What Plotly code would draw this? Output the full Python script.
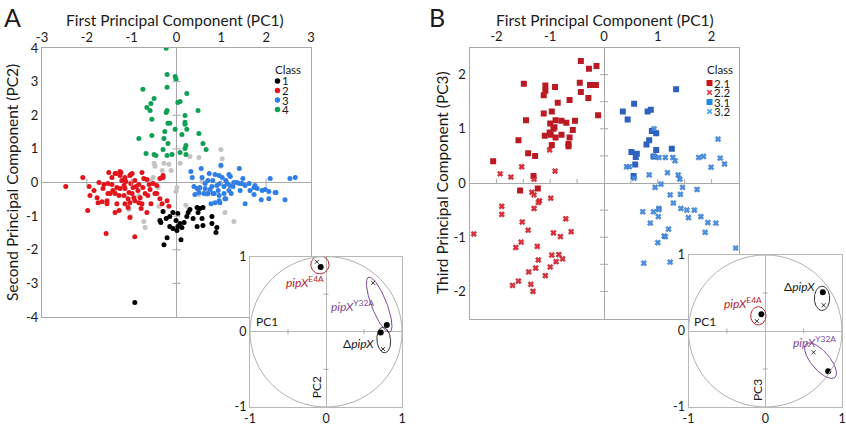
import numpy as np
import plotly.graph_objects as go

W, H = 846, 425
FONT = "Lato"

# ---------------- Panel A data: (PC1, PC2) ----------------
A_class1 = [(-0.30,-0.86),(-0.35,-1.19),(-0.37,-1.13),(-0.23,-1.07),(-0.15,-1.01),(-0.08,-0.89),
            (0.03,-0.92),(0.08,-1.22),(-0.08,-1.37),(0.01,-1.43),(0.10,-1.70),(-0.21,-1.64),
            (-0.28,-1.85),(0.23,-1.01),(0.26,-0.89),(0.30,-0.80),(0.46,-0.74),(0.52,-0.77),
            (0.59,-0.74),(0.48,-0.89),(0.57,-1.07),(0.46,-1.31),(0.59,-1.28),(0.79,-1.01),
            (0.90,-1.34),(0.88,-1.49),(0.79,-1.22),(0.17,-1.19),(0.12,-1.34),(-0.93,-3.57),
            (-0.01,-1.13),(0.03,-1.31),(0.37,-1.07),(-0.15,-1.31)]
A_class2 = [(-2.09,0.15),(-2.47,-0.12),(-1.95,-0.12),(-1.73,0.00),(-1.62,-0.06),(-1.64,-0.18),
            (-1.53,-0.03),(-1.51,0.30),(-1.44,0.15),(-1.35,0.27),(-1.26,0.33),(-1.26,0.21),
            (-1.22,0.06),(-1.15,0.15),(-1.04,0.21),(-0.99,0.27),(-0.93,0.06),(-1.02,-0.03),
            (-0.84,-0.06),(-0.77,0.30),(-0.73,0.12),(-0.66,0.09),(-0.61,-0.06),(-1.44,-0.06),
            (-1.33,-0.15),(-1.17,-0.09),(-0.97,-0.15),(-1.15,-0.18),(-1.93,-0.39),(-1.77,-0.45),
            (-1.66,-0.57),(-1.55,-0.54),(-1.48,-0.33),(-1.37,-0.33),(-1.28,-0.39),(-1.17,-0.39),
            (-1.06,-0.30),(-0.99,-0.33),(-0.95,-0.45),(-0.93,-0.54),(-0.84,-0.60),(-1.04,-0.60),
            (-1.15,-0.63),(-1.33,-0.63),(-0.77,-0.63),(-0.57,-0.63),(-0.48,-0.33),(-0.37,-0.48),
            (-0.17,-0.71),(-0.21,-0.54),(-0.66,-0.89),(-1.04,-1.04),(-1.28,-0.83),(-1.37,-0.89),
            (-1.98,-0.83),(-1.57,-1.52),(-0.93,-1.61),(-0.30,0.21),(-0.30,0.15),(-0.44,-0.09),
            (-0.52,-0.03),(-0.75,-0.15),(-0.44,-0.33),(-0.32,-0.63),(-1.55,-0.63),(-1.75,-0.60),
            (-1.24,0.30),(-1.02,0.24),(-1.37,0.27),(-1.13,0.03),(-1.42,-0.24),(-0.86,-0.24),
            (-0.70,-0.33),(-0.81,-0.45),(-1.08,-0.48),(-1.26,-0.18),(-0.90,-0.12),(-1.53,-0.33),
            (-1.84,-0.24),(-0.64,-0.39),(-1.08,-0.74),(-0.79,-0.77),(-0.59,-0.21),(-0.37,0.12)]
A_class3 = [(0.32,0.33),(0.55,0.42),(0.73,0.27),(0.86,0.24),(0.99,0.51),(1.17,0.24),(1.40,0.42),
            (0.35,0.15),(0.57,0.15),(0.81,0.06),(0.95,0.21),(1.02,0.15),(1.20,0.18),(0.39,-0.12),
            (0.41,-0.36),(0.50,-0.30),(0.90,-0.09),(0.97,-0.03),(1.06,-0.12),(1.13,-0.03),
            (1.19,-0.09),(1.28,0.00),(1.40,-0.03),(1.46,-0.03),(1.53,-0.09),(0.75,-0.21),
            (0.84,-0.33),(0.95,-0.39),(1.06,-0.33),(1.17,-0.24),(0.86,-0.60),(0.77,-0.63),
            (0.95,-0.54),(1.08,-0.48),(1.53,-0.63),(1.64,-0.24),(1.73,-0.36),(1.80,-0.18),
            (1.91,-0.24),(2.06,-0.27),(2.20,-0.30),(1.89,-0.51),(2.06,-0.48),(2.42,-0.51),
            (2.09,0.12),(2.53,0.12),(2.65,0.15),(0.64,-0.03),(0.52,-0.15),(0.46,-0.18),
            (1.75,-0.09),(1.62,-0.03),(0.64,-0.18),(0.61,-0.33),(0.70,-0.33),(0.81,-0.33),
            (0.97,-0.60),(1.10,-0.48),(1.73,-0.15),(1.98,-0.21),(2.22,-0.30),(1.35,0.00),
            (1.26,-0.12),(1.10,0.06),(0.79,-0.12),(0.70,0.06),(1.42,-0.24),(1.48,0.12),
            (0.93,-0.24),(1.22,-0.33)]
A_class4 = [(-0.23,3.99),(-0.21,3.21),(-0.03,3.15),(-0.01,3.07),(-0.75,2.77),(-0.21,2.83),
            (0.23,2.65),(-0.50,2.50),(0.08,2.41),(0.03,2.38),(-0.57,2.35),(-0.66,2.23),
            (-0.59,2.14),(-0.21,2.14),(-0.23,2.08),(0.48,2.14),(0.19,1.99),(-0.55,1.88),
            (-0.19,1.76),(-0.15,1.76),(0.19,1.79),(0.19,1.73),(-0.03,1.58),(-0.26,1.52),
            (0.23,1.58),(0.50,1.46),(-0.55,1.40),(0.12,1.43),(-0.84,1.31),(-0.28,1.31),
            (-0.19,1.16),(0.59,1.16),(0.21,1.10),(0.19,1.01),(-0.30,0.98),(0.66,0.98),
            (-0.68,0.86),(-0.50,0.83),(-0.46,0.80),(-0.21,0.80),(-0.10,0.83),(0.08,0.89),
            (0.21,0.83)]
A_unclassified = [(0.30,0.77),(0.50,0.74),(0.99,0.98),(1.02,0.71),(-0.50,0.57),(-0.48,0.48),
                  (-0.28,0.57),(-0.17,0.54),(-0.32,0.36),(-0.12,0.36),(0.08,0.57),(0.99,0.48),
                  (-0.52,0.15),(-0.57,0.06),(-0.41,-0.15),(0.01,-0.15),(-0.01,-0.27),(-0.84,-0.39),
                  (-1.06,-0.80),(-1.02,-1.01),(-0.73,-1.16),(-0.70,-1.34),(-0.39,-0.71),(0.21,-0.68),
                  (0.28,-0.80),(0.52,-0.18),(0.64,-0.24),(0.68,-0.36),(1.08,-0.89),(1.28,-1.16),
                  (-1.37,-0.24),(0.57,0.03),(0.50,-0.36)]

# ---------------- Panel B data: (PC1, PC3) ----------------
B_class21 = [(-0.43,2.25),(-0.14,2.16),(-0.28,2.11),(-1.49,1.83),(-1.09,1.80),(-0.91,1.77),
             (-0.45,1.85),(-0.26,1.81),(-0.15,1.81),(-1.09,1.70),(-0.43,1.68),(-1.12,1.62),
             (-0.29,1.57),(-0.64,1.53),(-0.86,1.48),(-0.97,1.32),(-1.12,1.28),(-0.11,1.25),
             (-1.45,1.16),(-0.90,1.16),(-0.79,1.15),(-0.70,1.11),(-0.54,1.15),(-1.00,1.10),
             (-0.92,1.03),(-0.94,1.00),(-0.58,0.98),(-1.01,0.93),(-0.99,0.89),(-1.10,0.87),
             (-0.90,0.84),(-0.79,0.89),(-0.64,0.84),(-1.59,0.79),(-0.66,0.72),(-0.66,0.68),
             (-0.97,0.70),(-1.41,0.55),(-1.28,0.50),(-2.06,0.40),(-1.31,0.13),(-1.56,-0.14),
             (-1.23,-0.10)]
B_class22 = [(-1.01,0.61),(-1.53,0.30),(-1.93,0.17),(-1.73,0.11),(-0.91,0.22),(-1.30,0.07),
             (-1.34,-0.17),(-1.30,-0.22),(-1.20,-0.33),(-1.22,-0.36),(-0.99,-0.28),(-1.90,-0.43),
             (-1.90,-0.58),(-1.30,-0.47),(-1.52,-0.72),(-0.71,-0.66),(-2.42,-0.94),(-1.41,-0.87),
             (-0.94,-0.92),(-0.81,-0.99),(-0.61,-0.90),(-1.54,-1.09),(-1.64,-1.19),(-1.24,-1.17),
             (-1.22,-1.42),(-0.97,-1.33),(-0.84,-1.32),(-0.77,-1.40),(-0.89,-1.45),(-1.27,-1.57),
             (-1.00,-1.55),(-1.40,-1.64),(-1.09,-1.71),(-1.59,-1.81),(-1.70,-1.89),(-1.36,-1.87),
             (-1.32,-2.00)]
B_class31 = [(1.34,1.73),(0.56,1.46),(0.35,1.32),(0.81,1.32),(0.87,1.35),(0.44,1.17),(0.89,0.96),
             (0.97,0.92),(0.84,0.79),(0.79,0.71),(0.97,0.61),(1.26,0.63),(0.51,0.57),(0.61,0.54),
             (0.59,0.48),(0.92,0.49),(0.58,0.34),(0.55,0.13)]
B_class32 = [(0.93,1.00),(0.93,0.49),(1.02,0.47),(1.14,0.47),(1.28,0.47),(1.32,0.41),(1.76,0.47),
             (1.85,0.49),(2.16,0.46),(2.24,0.35),(1.99,0.29),(2.12,0.81),(0.42,0.30),(0.47,0.30),
             (0.84,0.15),(1.18,0.19),(1.38,0.15),(1.41,0.07),(0.56,0.09),(1.06,-0.02),(0.95,-0.08),
             (1.23,-0.22),(1.42,-0.21),(1.73,-0.12),(1.46,-0.08),(0.72,-0.53),(0.92,-0.53),
             (1.02,-0.47),(1.02,-0.49),(1.01,-0.62),(1.29,-0.37),(1.43,-0.47),(1.54,-0.50),
             (1.68,-0.50),(1.57,-0.64),(1.80,-0.62),(1.93,-0.73),(2.08,-0.74),(0.86,-0.74),
             (1.20,-0.85),(1.88,-0.91),(1.12,-0.98),(1.14,-0.99),(1.00,-1.10),(2.45,-1.20),
             (0.74,-1.48),(1.23,-1.46)]

# ---------------- Loading-plot insets ----------------
strains = ["pipX E4A", "pipX Y32A", "delta pipX"]
insetA_dot = [(-0.07, 0.86), (0.80, 0.09), (0.72, -0.01)]
insetA_cross = [(-0.12, 0.93), (0.62, 0.65), (0.75, -0.23)]
insetB_dot = [(-0.05, 0.22), (0.82, -0.53), (0.75, 0.51)]
insetB_cross = [(-0.11, 0.13), (0.63, -0.28), (0.76, 0.34)]
# ellipse: centre x, centre y, semi-axis a, semi-axis b, angle (deg)
insetA_ell = [(-0.08, 0.89, 0.12, 0.12, 0), (0.70, 0.36, 0.39, 0.10, -69), (0.76, -0.11, 0.17, 0.09, 95)]
insetB_ell = [(-0.09, 0.20, 0.12, 0.10, 90), (0.72, -0.39, 0.29, 0.12, -50), (0.74, 0.43, 0.16, 0.10, 90)]
strain_colors = ["#b5242b", "#7d4a9c", "#333333"]

tickA_x = [-3, -2, -1, 0, 1, 2, 3]
tickA_y = [-4, -3, -2, -1, 0, 1, 2, 3, 4]
tickB_x = [-2, -1, 0, 1, 2]
tickB_y = [-2, -1, 0, 1, 2]
tick_inset = [-1, 0, 1]

GRID = "#a8a8a8"
TXT = "#1a1a1a"

fig = go.Figure()


def xs(p):
    return [q[0] for q in p]


def ys(p):
    return [q[1] for q in p]


def add_pts(pts, xa, ya, color, symbol, size, name, lw=0, lc=None):
    fig.add_trace(go.Scatter(
        x=xs(pts), y=ys(pts), xaxis=xa, yaxis=ya, mode="markers", name=name,
        marker=dict(color=color, symbol=symbol, size=size,
                    line=dict(width=lw, color=lc or color)),
        showlegend=False, hoverinfo="skip"))


# Panel A points
add_pts(A_unclassified, "x", "y", "#c3c3c3", "circle", 5, "unclassified")
add_pts(A_class2, "x", "y", "#e3141c", "circle", 5, "2")
add_pts(A_class3, "x", "y", "#2f7fe6", "circle", 5, "3")
add_pts(A_class4, "x", "y", "#0f9f55", "circle", 5, "4")
add_pts(A_class1, "x", "y", "#000000", "circle", 5, "1")

# Panel B points
add_pts(B_class21, "x2", "y2", "#bb1a22", "square", 6, "2.1")
add_pts(B_class22, "x2", "y2", "#e2303a", "x", 5, "2.2", 0.5, "#a01018")
add_pts(B_class31, "x2", "y2", "#2c62bd", "square", 6, "3.1")
add_pts(B_class32, "x2", "y2", "#4a92e6", "x", 5, "3.2", 0.5, "#2a62b0")


def ellipse(cx, cy, a, b, ang):
    t = np.linspace(0, 2 * np.pi, 120)
    th = np.radians(ang)
    ex = cx + a * np.cos(t) * np.cos(th) - b * np.sin(t) * np.sin(th)
    ey = cy + a * np.cos(t) * np.sin(th) + b * np.sin(t) * np.cos(th)
    return ex, ey


for ells, dots, crosses, xa, ya in [(insetA_ell, insetA_dot, insetA_cross, "x3", "y3"),
                                     (insetB_ell, insetB_dot, insetB_cross, "x4", "y4")]:
    for e, col in zip(ells, strain_colors):
        ex, ey = ellipse(*e)
        fig.add_trace(go.Scatter(x=ex, y=ey, xaxis=xa, yaxis=ya, mode="lines",
                                 line=dict(color=col, width=1), showlegend=False, hoverinfo="skip"))
    add_pts(dots, xa, ya, "#000000", "circle", 6, "dot")
    add_pts(crosses, xa, ya, "#333333", "x-thin", 4, "cross", 1, "#333333")


def ax(domain, rng, tv, side=None, anchor=None, fs=13):
    d = dict(domain=domain, range=rng, tickvals=tv, ticktext=[str(v) for v in tv],
             ticks="", showline=True, mirror=True, linecolor=GRID, linewidth=1,
             zeroline=True, zerolinecolor=GRID, zerolinewidth=1, showgrid=False,
             tickfont=dict(family=FONT, size=fs, color=TXT), anchor=anchor, fixedrange=True,
             automargin=False)
    if side:
        d["side"] = side
    return d


def dx(p):
    return p / W


def dy(p):
    return 1 - p / H


fig.update_layout(
    width=W, height=H, margin=dict(l=0, r=0, t=0, b=0, autoexpand=False),
    paper_bgcolor="white", plot_bgcolor="white", showlegend=False,
    xaxis=ax([dx(42), dx(311)], [-3, 3], tickA_x, "top", "y"),
    yaxis=ax([dy(317), dy(48)], [-4, 4], tickA_y, None, "x"),
    xaxis2=ax([dx(469.5), dx(738.5)], [-2.5, 2.5], tickB_x, "top", "y2"),
    yaxis2=ax([dy(318.5), dy(47.5)], [-2.5, 2.5], tickB_y, None, "x2"),
    xaxis3=ax([dx(250), dx(402)], [-1, 1], tick_inset, "bottom", "y3", 12.5),
    yaxis3=ax([dy(407), dy(256.5)], [-1, 1], tick_inset, None, "x3", 12.5),
    xaxis4=ax([dx(688.5), dx(842)], [-1, 1], tick_inset, "bottom", "y4", 12.5),
    yaxis4=ax([dy(407), dy(255)], [-1, 1], tick_inset, None, "x4", 12.5),
)
for k in ["xaxis3", "yaxis3", "xaxis4", "yaxis4"]:
    fig.layout[k].linecolor = "#b8b8b8"
    fig.layout[k].zerolinecolor = "#b8b8b8"
    fig.layout[k].ticklabelstandoff = 0

shapes = []


def tick_shapes(xa, ya, vals_v, vals_h, half, up_only=False):
    # ticks on the vertical zero line (at y values)
    for v in vals_v:
        shapes.append(dict(type="line", xref=xa, yref=ya, xsizemode="pixel", xanchor=0,
                           x0=-half, x1=half, y0=v, y1=v, line=dict(color=GRID, width=1), layer="above"))
    # ticks on the horizontal zero line (at x values)
    for v in vals_h:
        shapes.append(dict(type="line", xref=xa, yref=ya, ysizemode="pixel", yanchor=0,
                           y0=(0 if up_only else -half), y1=half, x0=v, x1=v,
                           line=dict(color=GRID, width=1), layer="above"))


tick_shapes("x", "y", [-3, -2, -1, 1, 2, 3], [-2, -1, 1, 2], 4)
tick_shapes("x2", "y2", [-2, -1.5, -1, -0.5, 0.5, 1, 1.5, 2], [-2, -1.5, -1, -0.5, 0.5, 1, 1.5, 2], 4, True)
tick_shapes("x3", "y3", [-0.5, 0.5], [-0.5, 0.5], 2.5)
tick_shapes("x4", "y4", [-0.5, 0.5], [-0.5, 0.5], 2.5)

for xa, ya in [("x3", "y3"), ("x4", "y4")]:
    shapes.append(dict(type="circle", xref=xa, yref=ya, x0=-1, x1=1, y0=-1, y1=1,
                       line=dict(color="#b0b0b0", width=1), layer="above"))


# legends (drawn as decoration in paper space)
def leg_marker(kind, px, py, color, s):
    base = dict(xref="paper", yref="paper", xsizemode="pixel", ysizemode="pixel",
                xanchor=dx(px), yanchor=dy(py), layer="above")
    if kind in ("circle", "rect"):
        shapes.append(dict(base, type=kind, x0=-s / 2, x1=s / 2, y0=-s / 2, y1=s / 2,
                           fillcolor=color, line=dict(width=0)))
    else:
        h = s / 2
        shapes.append(dict(base, type="line", x0=-h, x1=h, y0=-h, y1=h, line=dict(color=color, width=1.6)))
        shapes.append(dict(base, type="line", x0=-h, x1=h, y0=h, y1=-h, line=dict(color=color, width=1.6)))


annotations = []


def ann(text, x, y, size=12, color=TXT, xref="paper", yref="paper", xanchor="center",
        yanchor="middle", angle=0):
    if xref == "paper":
        x, y = dx(x), dy(y)
    annotations.append(dict(text=text, x=x, y=y, xref=xref, yref=yref, showarrow=False,
                            xanchor=xanchor, yanchor=yanchor, textangle=angle,
                            borderpad=0, font=dict(family=FONT, size=size, color=color)))


legA_labels = ["1", "2", "3", "4"]
legA_colors = ["#000000", "#e3141c", "#2f7fe6", "#0f9f55"]
legA_rows = [81, 90.5, 100, 109.5]
ann("Class", 288, 70, 11.5)
for lab, col, ry in zip(legA_labels, legA_colors, legA_rows):
    leg_marker("circle", 277.5, ry, col, 5.5)
    ann(lab, 281, ry, 11.5, xanchor="left")

legB_labels = ["2.1", "2.2", "3.1", "3.2"]
legB_kinds = ["rect", "x", "rect", "x"]
legB_colors = ["#c8141c", "#e2303a", "#1e8ae6", "#3f9ef0"]
legB_rows = [83, 92.5, 102, 111.5]
ann("Class", 720, 70, 11.5)
for lab, kind, col, ry in zip(legB_labels, legB_kinds, legB_colors, legB_rows):
    leg_marker(kind, 709.5, ry, col, 6 if kind == "rect" else 4.5)
    ann(lab, 713, ry, 11.5, xanchor="left")

# titles and panel letters
ann("A", 12, 17, 25)
ann("B", 437, 17, 25)
ann("First Principal Component (PC1)", 175, 20, 15.5)
ann("First Principal Component (PC1)", 605, 20, 15.5)
ann("Second Principal Component (PC2)", 12, 183, 15.5, angle=-90)
ann("Third Principal Component (PC3)", 442, 183, 15.5, angle=-90)

# inset labels
E4A = "<i>pipX</i><sup>E4A</sup>"
Y32A = "<i>pipX</i><sup>Y32A</sup>"
DEL = "Δ<i>pipX</i>"
ann(E4A, -0.01, 0.66, 12, strain_colors[0], "x3", "y3", "right")
ann(Y32A, 0.35, 0.34, 12, strain_colors[1], "x3", "y3")
ann(DEL, 0.645, -0.16, 12, "#1a1a1a", "x3", "y3", "right")
ann("PC1", -0.77, 0.13, 12, TXT, "x3", "y3")
ann("PC2", -0.12, -0.74, 12, TXT, "x3", "y3", angle=-90)

ann(DEL, 0.66, 0.58, 12, "#1a1a1a", "x4", "y4", "right")
ann(E4A, -0.03, 0.37, 12, strain_colors[0], "x4", "y4", "right")
ann(Y32A, 0.64, -0.14, 12, strain_colors[1], "x4", "y4")
ann("PC1", -0.79, 0.12, 12, TXT, "x4", "y4")
ann("PC3", -0.11, -0.78, 12, TXT, "x4", "y4", angle=-90)

fig.update_layout(shapes=shapes, annotations=annotations)
fig.write_html("out.html", config={"displayModeBar": False, "staticPlot": True},
               post_script="document.body.style.margin='0';document.body.style.overflow='hidden';")
